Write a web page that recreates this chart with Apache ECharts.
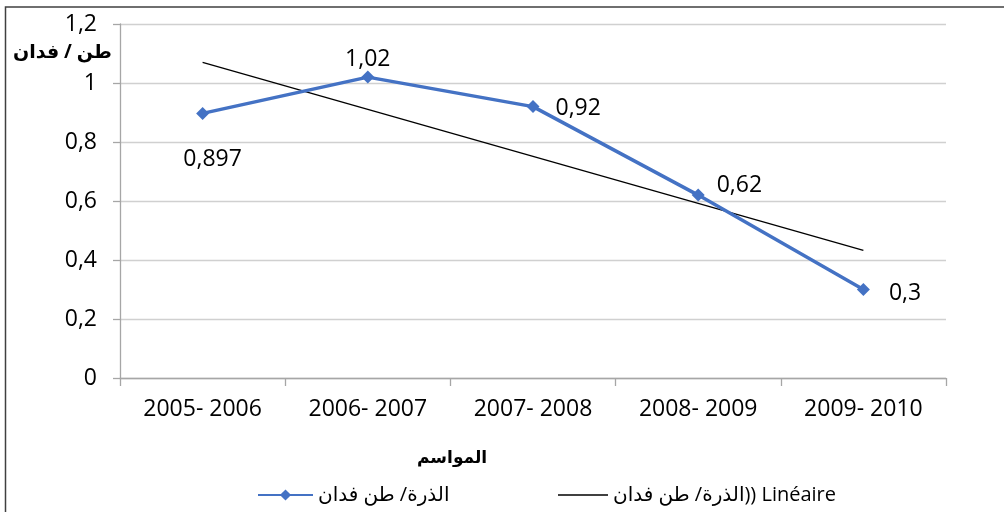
<!DOCTYPE html>
<html>
<head>
<meta charset="utf-8">
<script src="https://cdn.jsdelivr.net/npm/echarts@6/dist/echarts.min.js"></script>
<style>
html,body{margin:0;padding:0;background:#fff;}
#chart{width:1004px;height:512px;}
</style>
</head>
<body>
<div id="chart"></div>
<script>
var categories = ['2005- 2006', '2006- 2007', '2007- 2008', '2008- 2009', '2009- 2010'];
var cornYield = [0.897, 1.02, 0.92, 0.62, 0.3];
var trendLine = [1.07, null, null, null, 0.433];
var yTicks = { min: 0, max: 1.2, interval: 0.2 };
var seriesName = 'الذرة/ طن فدان';
var trendName = 'الذرة/ طن فدان)) Linéaire';
var yAxisTitle = 'طن / فدان';
var xAxisTitle = 'المواسم';

var FONT = '"Open Sans", "DejaVu Sans", sans-serif';
var labelPos = [
  { position: 'bottom', offset: [10, 20] },
  { position: 'top', offset: [0, 8] },
  { position: 'right', offset: [8, 2] },
  { position: 'right', offset: [4, -10] },
  { position: 'right', offset: [11, 4] }
];
function comma(v) { return String(v).replace('.', ','); }

var chart = echarts.init(document.getElementById('chart'), null, { renderer: 'canvas' });
chart.setOption({
  animation: false,
  backgroundColor: '#ffffff',
  grid: { left: 120, right: 58, top: 24, bottom: 134 },
  legend: [
    {
      data: [seriesName], left: 252, top: 480, itemWidth: 55, itemHeight: 14, itemGap: 4,
      textStyle: { fontFamily: FONT, fontSize: 20, color: '#000' }
    },
    {
      data: [{ name: trendName, icon: 'rect' }], left: 553, top: 480, itemWidth: 50, itemHeight: 1.3,
      textStyle: { fontFamily: FONT, fontSize: 20, color: '#000' }
    }
  ],
  xAxis: {
    type: 'category',
    data: categories,
    boundaryGap: true,
    axisLine: { lineStyle: { color: '#a6a6a6', width: 1.3 } },
    axisTick: { show: true, length: 8, alignWithLabel: false, lineStyle: { color: '#a6a6a6', width: 1.3 } },
    axisLabel: { fontFamily: FONT, fontSize: 23, color: '#000', margin: 20 },
    splitLine: { show: false }
  },
  yAxis: {
    type: 'value',
    min: yTicks.min, max: yTicks.max, interval: yTicks.interval,
    axisLine: { show: true, lineStyle: { color: '#a6a6a6', width: 1.3 } },
    axisTick: { show: true, length: 7, lineStyle: { color: '#a6a6a6', width: 1.3 } },
    axisLabel: { fontFamily: FONT, fontSize: 23, color: '#000', margin: 23, formatter: function (v) { return comma(Math.round(v * 10) / 10); } },
    splitLine: { show: true, lineStyle: { color: '#d0d0d0', width: 1.3 } }
  },
  series: [
    {
      name: seriesName,
      type: 'line',
      data: cornYield.map(function (v, i) {
        return { value: v, label: { position: labelPos[i].position, offset: labelPos[i].offset } };
      }),
      symbol: 'diamond',
      symbolSize: 13,
      lineStyle: { color: '#4472C4', width: 3.5 },
      itemStyle: { color: '#4472C4' },
      label: {
        show: true, fontFamily: FONT, fontSize: 23, color: '#000', distance: 8,
        formatter: function (p) { return comma(p.value); }
      },
      z: 3
    },
    {
      name: trendName,
      type: 'line',
      data: trendLine,
      connectNulls: true,
      symbol: 'none',
      lineStyle: { color: '#000', width: 1.3 },
      itemStyle: { color: '#000' },
      z: 2
    }
  ],
  graphic: [
    {
      type: 'rect', silent: true,
      shape: { x: 5.5, y: 7, width: 1200, height: 700 },
      style: { fill: 'none', stroke: '#404040', lineWidth: 1.5 }
    },
    {
      type: 'text', left: 13, top: 43,
      style: { text: yAxisTitle, font: 'bold 19px ' + FONT, fill: '#000' }
    },
    {
      type: 'text', left: 417, top: 450,
      style: { text: xAxisTitle, font: 'bold 17px ' + FONT, fill: '#000' }
    }
  ]
});
</script>
</body>
</html>
